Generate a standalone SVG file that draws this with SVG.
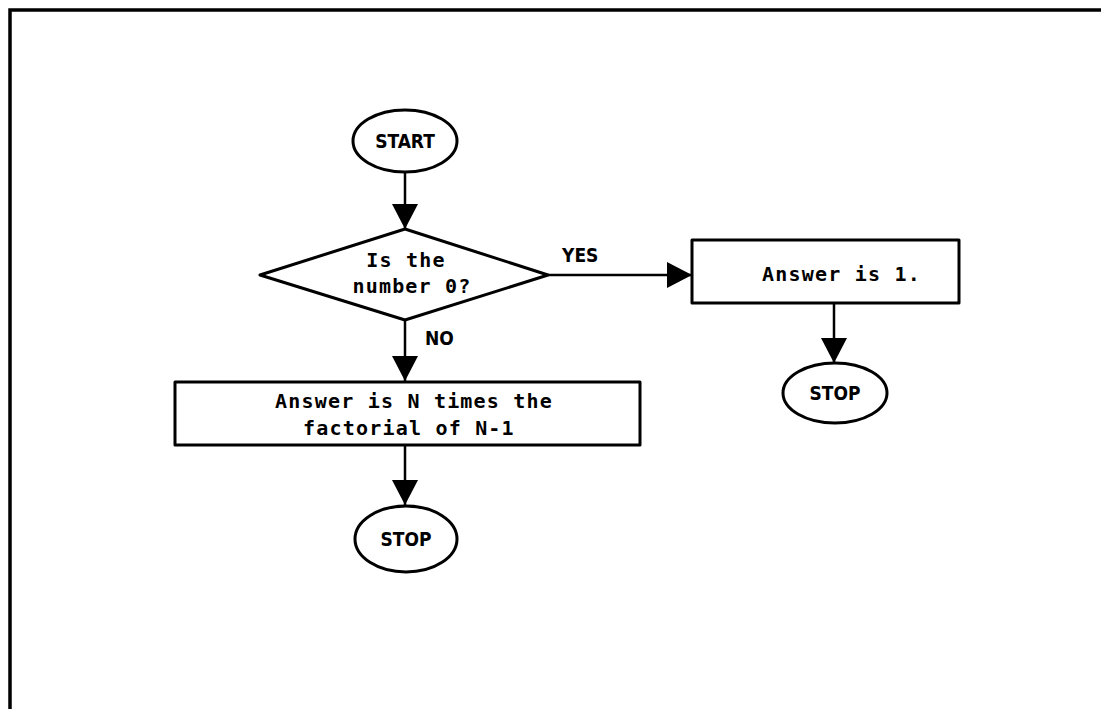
<svg xmlns="http://www.w3.org/2000/svg" width="1101" height="709" viewBox="0 0 1101 709">
<style>
.shape{fill:#fff;stroke:#000;stroke-width:3;stroke-linejoin:round}
.ln{stroke:#000;stroke-width:2.5;fill:none}
.mono{font-family:"DejaVu Sans Mono","Liberation Mono",monospace;font-weight:bold;font-size:20px;letter-spacing:1.2px;fill:#000}
.lbl{font-family:"DejaVu Sans Condensed","DejaVu Sans",sans-serif;font-weight:bold;font-size:19px;fill:#000}
</style>
<defs>
<marker id="ah" markerUnits="userSpaceOnUse" markerWidth="28" markerHeight="26" refX="25" refY="13" orient="auto">
<path d="M0,0 L25,13 L0,26 Z" fill="#000"/>
</marker>
</defs>
<rect width="1101" height="709" fill="#fff"/>
<path d="M10,709 L10,10 L1101,10" fill="none" stroke="#000" stroke-width="3.5"/>
<g id="connectors">
<line class="ln" x1="405" y1="172" x2="405" y2="229" marker-end="url(#ah)"/>
<line class="ln" x1="548" y1="275" x2="692" y2="275" marker-end="url(#ah)"/>
<line class="ln" x1="405" y1="320" x2="405" y2="381" marker-end="url(#ah)"/>
<line class="ln" x1="405" y1="445" x2="405" y2="505" marker-end="url(#ah)"/>
<line class="ln" x1="834" y1="303" x2="834" y2="363" marker-end="url(#ah)"/>
<text class="lbl" x="562" y="262">YES</text>
<text class="lbl" x="425" y="345">NO</text>
</g>
<g id="start">
<ellipse class="shape" cx="405" cy="141" rx="52" ry="31"/>
<text class="lbl" x="405" y="148" text-anchor="middle">START</text>
</g>
<g id="decision">
<polygon class="shape" points="405,229 548,275 405,320 260,275"/>
<text class="mono" x="406" y="267" text-anchor="middle">Is the</text>
<text class="mono" x="412" y="293" text-anchor="middle">number 0?</text>
</g>
<g id="answer1">
<rect class="shape" x="692" y="240" width="267" height="63"/>
<text class="mono" x="762" y="281">Answer is 1.</text>
</g>
<g id="stop-right">
<ellipse class="shape" cx="835" cy="393" rx="52" ry="30"/>
<text class="lbl" x="835" y="400" text-anchor="middle">STOP</text>
</g>
<g id="answerN">
<rect class="shape" x="175" y="382" width="465" height="63"/>
<text class="mono" x="275" y="408">Answer is N times the</text>
<text class="mono" x="303" y="435">factorial of N-1</text>
</g>
<g id="stop-left">
<ellipse class="shape" cx="406" cy="539" rx="51" ry="33"/>
<text class="lbl" x="406" y="546" text-anchor="middle">STOP</text>
</g>
</svg>
